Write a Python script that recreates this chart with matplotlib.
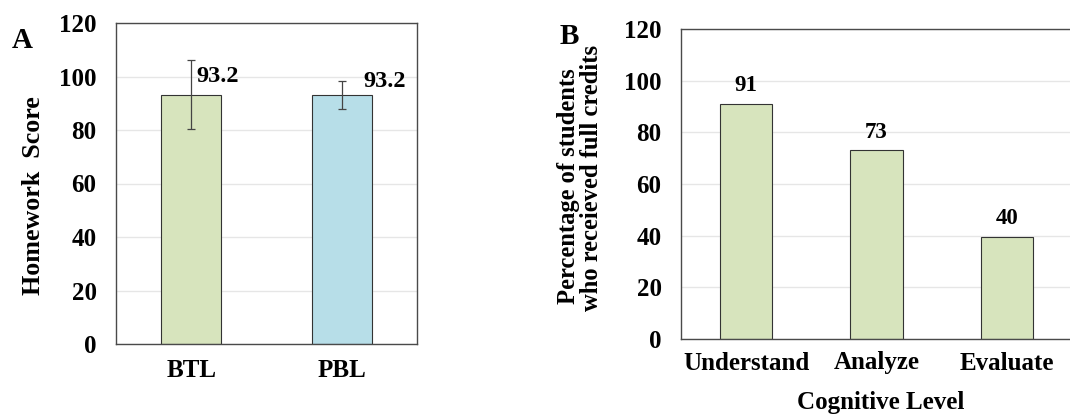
import numpy as np
import matplotlib
matplotlib.use('Agg')
import matplotlib.pyplot as plt

plt.rcParams['font.family'] = ['Liberation Serif', 'DejaVu Serif']
plt.rcParams['font.weight'] = 'bold'

# panel A data
groups = ['BTL', 'PBL']
hw_score = [93.2, 93.2]
hw_err = [13.0, 5.3]
hw_labels = ['93.2', '93.2']

# panel B data
levels = ['Understand', 'Analyze', 'Evaluate']
pct_full = [91, 73, 39.5]
pct_labels = ['91', '73', '40']

green = '#d7e4bd'
blue = '#b7dee8'
edge = '#333333'
W, H = 1070, 417

fig = plt.figure(figsize=(10.7, 4.17), dpi=100)

def style_axes(ax, xpad):
    ax.set_ylim(0, 120)
    ax.set_yticks(np.arange(0, 121, 20))
    ax.tick_params(length=0, labelsize=18)
    ax.tick_params(axis='y', pad=14)
    ax.tick_params(axis='x', pad=xpad)
    ax.grid(axis='y', color='#e6e6e6', lw=1.0)
    ax.set_axisbelow(True)
    for s in ax.spines.values():
        s.set_color('#4a4a4a')
        s.set_linewidth(1.0)

# ---- panel A
axA = fig.add_axes([116 / W, (H - 344) / H, 301 / W, 321 / H])
xa = np.arange(len(groups))
axA.bar(xa, hw_score, width=0.4, color=[green, blue], edgecolor=edge, linewidth=0.8,
        yerr=hw_err, error_kw=dict(ecolor='#444444', elinewidth=0.9, capsize=3, capthick=0.9))
axA.set_xlim(-0.5, 1.5)
axA.set_xticks(xa)
axA.set_xticklabels(groups)
style_axes(axA, 11)
offs = [(0.033, 98), (0.147, 96)]
for i, lab in enumerate(hw_labels):
    axA.text(xa[i] + offs[i][0], offs[i][1], lab, ha='left', va='baseline',
             fontsize=17.5, fontweight='bold')
axA.set_ylabel('Homework  Score', fontsize=18.7, fontweight='bold', va='center')
axA.yaxis.set_label_coords((34 - 116) / 301, (344 - 196) / 321)
fig.text(22 / W, 1 - 40 / H, 'A', ha='center', va='center', fontsize=21, fontweight='bold')

# ---- panel B
axB = fig.add_axes([681 / W, (H - 339) / H, 391 / W, 310 / H])
xb = np.arange(len(levels))
axB.bar(xb, pct_full, width=0.4, color=green, edgecolor=edge, linewidth=0.8)
axB.set_xlim(-0.5, 2.5)
axB.set_xticks(xb)
axB.set_xticklabels(levels)
style_axes(axB, 9)
for i, lab in enumerate(pct_labels):
    axB.text(xb[i], pct_full[i] + 5, lab, ha='center', va='baseline',
             fontsize=16.5, fontweight='bold')
# two-line y label, each line placed on its own
axB.set_ylabel('Percentage of students', fontsize=17.7, fontweight='bold', va='center')
axB.yaxis.set_label_coords((569 - 681) / 391, (339 - 186) / 310)
axB.text((592 - 681) / 391, (339 - 178) / 310, 'who receieved full credits',
         transform=axB.transAxes, rotation=90, ha='center', va='center',
         fontsize=17.7, fontweight='bold')
axB.set_xlabel('Cognitive Level', fontsize=18, fontweight='bold', va='center')
axB.xaxis.set_label_coords((881 - 681) / 391, -(403 - 339) / 310)
fig.text(569 / W, 1 - 36 / H, 'B', ha='center', va='center', fontsize=21, fontweight='bold')

fig.savefig('out.png', dpi=100)
